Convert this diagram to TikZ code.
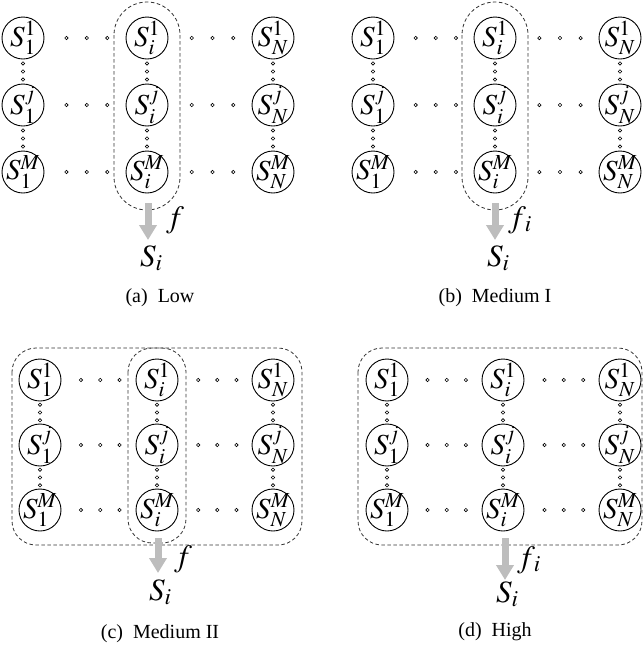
\documentclass[tikz,border=0pt]{standalone}
\usepackage{mathptmx}
\usepackage[no-math]{fontspec}
\setmainfont{Liberation Serif}
\usetikzlibrary{arrows.meta,calc}
\definecolor{arrgray}{HTML}{BDBDBD}
\definecolor{dashgray}{HTML}{333333}
\tikzset{
  snode/.style={circle,draw,line width=0.9pt,minimum size=42pt,inner sep=-5pt,
    font=\fontsize{29}{29}\selectfont},
  dotc/.style={circle,draw,line width=0.6pt,minimum size=3.4pt,inner sep=0pt},
  dbox/.style={draw=dashgray,line width=0.8pt,dash pattern=on 3.5pt off 2.5pt},
  bigarr/.style={draw=arrgray,line width=7pt,-{Triangle[length=15pt,width=17pt]}},
  lbl/.style={inner sep=0pt,anchor=base west,font=\fontsize{31}{31}\selectfont},
  capt/.style={inner sep=0pt,font=\fontsize{20}{20}\selectfont},
}
% #1 prefix, #2 x1, #3 xi, #4 xN, #5 y1, #6 yj, #7 yM
\newcommand\grid[7]{%
  \foreach \c/\cx/\cs in {1/#2/1, i/#3/i, N/#4/N} {
    \foreach \r/\ry/\rs in {1/#5/1, j/#6/j, M/#7/M} {
      \node[snode] (#1\c\r) at (\cx,\ry) {$S^{\rs}_{\cs}$};
    }
  }
  \foreach \r in {1,j,M} {
    \foreach \p [count=\k] in {0.35,0.515,0.68} {
      \path (#11\r.center) -- (#1i\r.center) node[dotc,pos=\p] (#1hl\r\k) {};
    }
    \foreach \p [count=\k] in {0.355,0.52,0.685} {
      \path (#1i\r.center) -- (#1N\r.center) node[dotc,pos=\p] (#1hr\r\k) {};
    }
  }
  \foreach \c in {1,i,N} {
    \foreach \p [count=\k] in {0.38,0.5,0.62} {
      \path (#1\c1.center) -- (#1\c j.center) node[dotc,pos=\p] (#1vu\c\k) {};
      \path (#1\c j.center) -- (#1\c M.center) node[dotc,pos=\p] (#1vd\c\k) {};
    }
  }
}
\begin{document}
\begin{tikzpicture}[x=1pt,y=-1pt]
\useasboundingbox (0,0) rectangle (643,657);

% ---------- (a) Low
\grid{a}{23}{147}{273}{38}{105}{172}
\draw[dbox,rounded corners=33pt] ($(ai1.center)+(-33,-36)$) rectangle ($(aiM.center)+(33,38)$);
\coordinate (aA) at ($(aiM.center)+(1,31)$);
\coordinate (aB) at ($(aiM.center)+(1,68)$);
\draw[bigarr] (aA) -- (aB);
\node[lbl] (af) at (166,227) {$f$};
\node[lbl] (aS) at (140,266) {$S_i$};
\node[capt] (acap) at (160,298) {(a)\enspace Low};

% ---------- (b) Medium I
\grid{b}{373}{495}{620}{38}{105}{172}
\draw[dbox,rounded corners=33pt] ($(bi1.center)+(-33,-36)$) rectangle ($(biM.center)+(33,38)$);
\coordinate (bA) at ($(biM.center)+(0,31)$);
\coordinate (bB) at ($(biM.center)+(0,68)$);
\draw[bigarr] (bA) -- (bB);
\node[lbl] (bf) at (508,227) {$f_{\,i}$};
\node[lbl] (bS) at (487,266) {$S_i$};
\node[capt] (bcap) at (495,298) {(b)\enspace Medium I};

% ---------- (c) Medium II
\grid{c}{40}{157}{273}{380}{445}{510}
\draw[dbox,rounded corners=24pt] ($(c11.center)+(-28,-32)$) rectangle ($(cNM.center)+(29,35)$);
\draw[dbox,rounded corners=24pt] ($(ci1.center)+(-29,-32)$) rectangle ($(ciM.center)+(29,33)$);
\coordinate (cA) at ($(ciM.center)+(1,28)$);
\coordinate (cB) at ($(ciM.center)+(1,63)$);
\draw[bigarr] (cA) -- (cB);
\node[lbl] (cf) at (174,566) {$f$};
\node[lbl] (cS) at (149,600) {$S_i$};
\node[capt] (ccap) at (160,634) {(c)\enspace Medium II};

% ---------- (d) High
\grid{d}{387}{503}{620}{380}{445}{510}
\draw[dbox,rounded corners=24pt] ($(d11.center)+(-29,-32)$) rectangle ($(dNM.center)+(22,35)$);
\coordinate (dA) at ($(diM.center)+(2,28)$);
\coordinate (dB) at ($(diM.center)+(2,70)$);
\draw[bigarr] (dA) -- (dB);
\node[lbl] (df) at (517,567) {$f_{\,i}$};
\node[lbl] (dS) at (496,602) {$S_i$};
\node[capt] (dcap) at (495,632) {(d)\enspace High};
\end{tikzpicture}
\end{document}
